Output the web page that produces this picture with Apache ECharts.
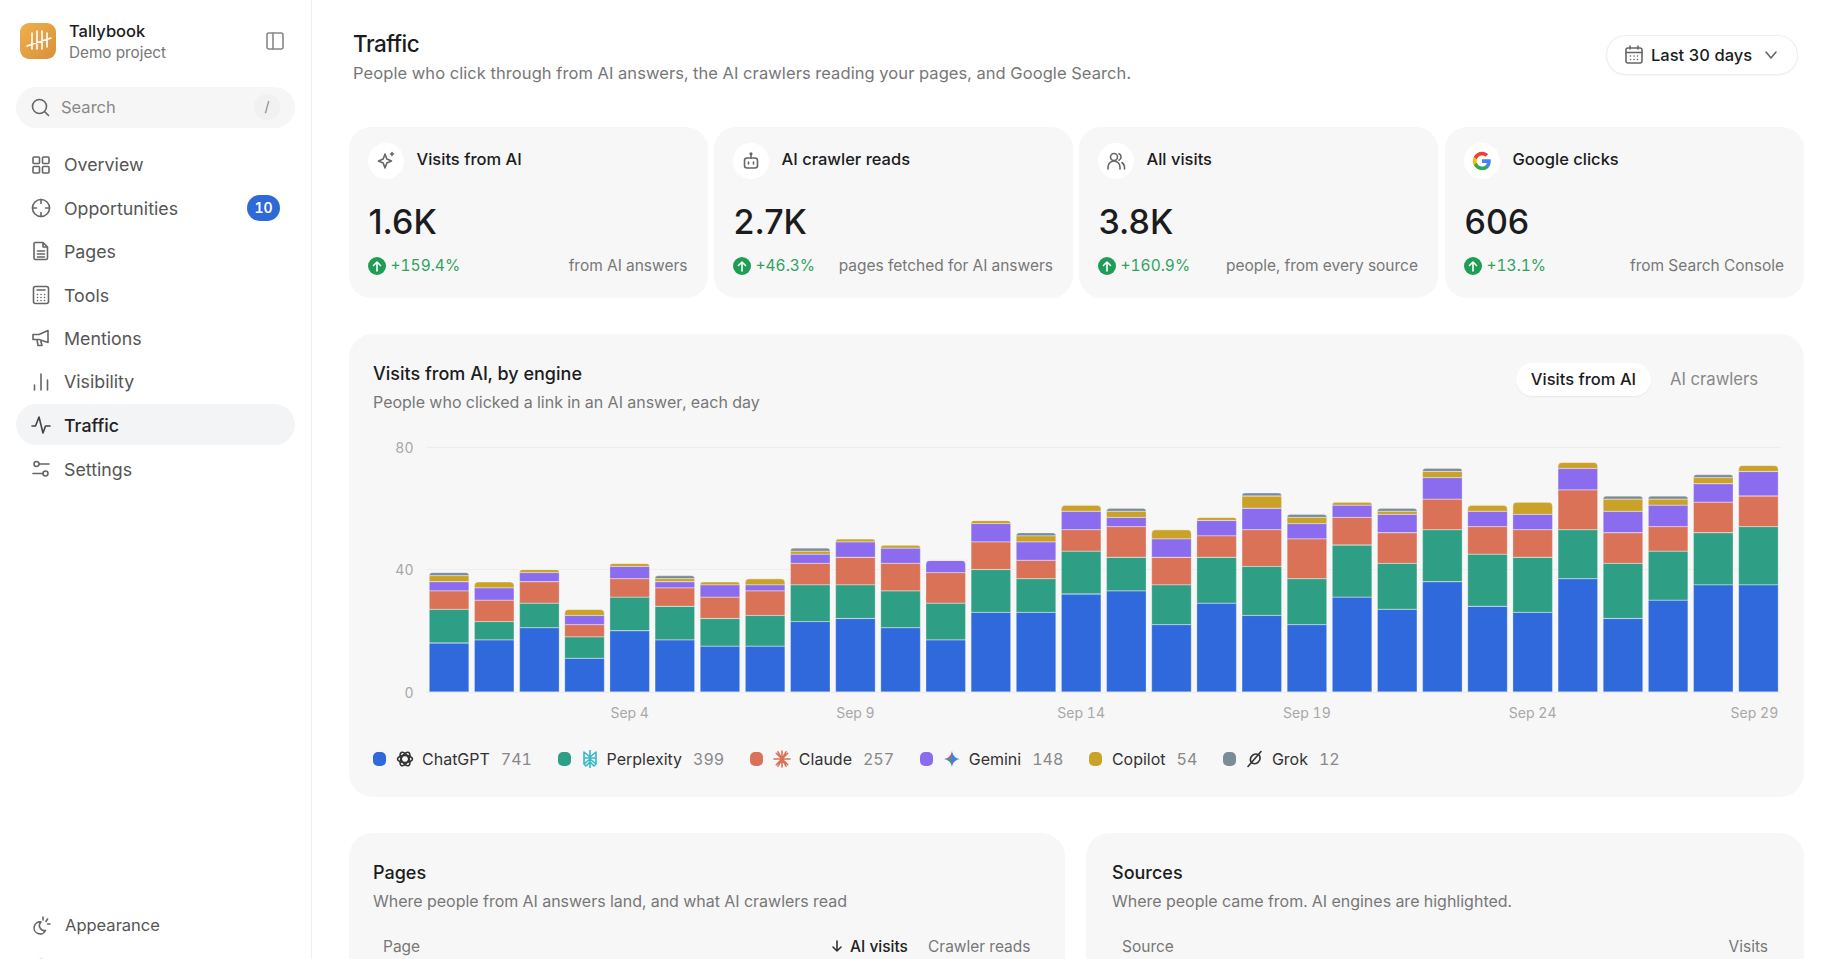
<!DOCTYPE html>
<html>
<head>
<meta charset="utf-8">
<title>Traffic</title>
<script src="https://cdn.jsdelivr.net/npm/echarts@6/dist/echarts.min.js"></script>
<style>
  html, body { margin: 0; padding: 0; background: #fff; }
  body { width: 1840px; height: 959px; overflow: hidden; position: relative; font-family: Inter, "Noto Sans", sans-serif; color: #1c1c1e; font-variant-numeric: tabular-nums; }
  .abs, .abs-c { position: absolute; white-space: nowrap; }
  .abs-c { transform: translateY(-50%); }
  svg:not(#chart svg) { display: block; fill: none; stroke: currentColor; stroke-width: 1.6; stroke-linecap: round; stroke-linejoin: round; }
  .side { position: absolute; left: 0; top: 0; width: 311px; height: 959px; border-right: 1px solid #f0f0f1; box-sizing: content-box; }
  .nav { position: absolute; left: 64px; font-size: 17.8px; color: #555; transform: translateY(-50%); }
  .navicon { position: absolute; left: 31px; width: 20px; height: 20px; color: #666; transform: translateY(-50%); }
  .pill { position: absolute; left: 16px; width: 279px; height: 41px; border-radius: 21px; background: #f3f4f5; }
  .card { position: absolute; background: #f7f7f7; border-radius: 22px; }
  .kpi { top: 127px; width: 359.5px; height: 171px; }
  .kpi .ic { position: absolute; left: 19px; top: 16px; width: 36px; height: 36px; border-radius: 50%; background: #fff; color: #666; display: flex; align-items: center; justify-content: center; }
  .kpi .t { position: absolute; left: 68px; top: 32px; font-size: 16.5px; font-weight: 500; transform: translateY(-50%); white-space: nowrap; }
  .kpi .v { position: absolute; left: 20px; top: 94px; font-size: 34px; font-weight: 500; font-variant-numeric: normal; transform: translateY(-50%); }
  .kpi .up { position: absolute; left: 19px; top: 129.5px; width: 18px; height: 18px; border-radius: 50%; background: #1f9d55; color: #fff; }
  .kpi .d { position: absolute; left: 42px; top: 138px; font-size: 15.5px; color: #2ea35f; transform: translateY(-50%); }
  .kpi .n { position: absolute; right: 20px; top: 138px; font-size: 15.5px; color: #777; transform: translateY(-50%); white-space: nowrap; }
  .h2 { font-size: 18px; font-weight: 500; }
  .sub { font-size: 16px; color: #777; }
  .th { font-size: 15.5px; color: #777; }
  #chart { position: absolute; left: 349px; top: 425px; width: 1455px; height: 310px; }
  #chart text { font-variant-numeric: tabular-nums !important; }
  #legend { position: absolute; left: 373px; top: 747px; height: 24px; display: flex; align-items: center; font-size: 16px; }
  .li { display: flex; align-items: center; margin-right: 25.6px; }
  .sw { width: 13px; height: 14px; border-radius: 5px; margin-right: 10px; }
  .eng { width: 18px; height: 18px; margin-right: 8px; }
  .cnt { color: #888; margin-left: 11px; }
</style>
</head>
<body>

<div class="side">
  <div class="abs" style="left:20px;top:23px;width:36px;height:36px;border-radius:9px;background:linear-gradient(135deg,#eeb04c,#d8913a);color:#fff">
    <svg width="36" height="36" viewBox="0 0 36 36" stroke-width="3.2"><path d="M12 10v16M17 8v18M22 8v18M27 10v14M7 23l24-8"/></svg>
  </div>
  <div class="abs-c" style="left:69px;top:31px;font-size:16.5px;font-weight:500">Tallybook</div>
  <div class="abs-c" style="left:69px;top:52px;font-size:15.3px;color:#777">Demo project</div>
  <div class="abs" style="left:266px;top:32px;color:#888"><svg width="18" height="18" viewBox="0 0 18 18"><rect x="1" y="1" width="16" height="16" rx="2"/><path d="M7 1v16"/></svg></div>

  <div class="pill" style="top:87px;background:#f6f6f7"></div>
  <div class="abs" style="left:30px;top:97px;color:#666"><svg width="20" height="20" viewBox="0 0 20 20"><circle cx="9.5" cy="9.5" r="7"/><path d="M15 15l3.5 3.5"/></svg></div>
  <div class="abs-c" style="left:61px;top:106.5px;font-size:16.5px;color:#888">Search</div>
  <div class="abs" style="left:254px;top:94px;width:26px;height:26px;border-radius:50%;background:#f1f1f2;color:#888;font-size:14px;line-height:26px;text-align:center">/</div>

  <div class="navicon" style="top:165px"><svg width="20" height="20" viewBox="0 0 20 20"><rect x="2" y="2" width="6.5" height="6.5" rx="1"/><rect x="11.5" y="2" width="6.5" height="6.5" rx="1"/><rect x="2" y="11.5" width="6.5" height="6.5" rx="1"/><rect x="11.5" y="11.5" width="6.5" height="6.5" rx="1"/></svg></div>
  <div class="nav" style="top:164px">Overview</div>
  <div class="navicon" style="top:208px"><svg width="20" height="20" viewBox="0 0 20 20"><circle cx="10" cy="10" r="8.5"/><path d="M10 1.5v4M10 14.500v4M1.500 10h4M14.500 10h4"/></svg></div>
  <div class="nav" style="top:208px">Opportunities</div>
  <div class="abs" style="left:247px;top:195px;width:33px;height:26px;border-radius:13px;background:#2f69d9;color:#fff;font-size:14px;font-weight:600;line-height:26px;text-align:center">10</div>
  <div class="navicon" style="top:251px"><svg width="20" height="20" viewBox="0 0 20 20"><path d="M4 1.500h8l4.500 4.500v11a1.500 1.500 0 0 1-1.500 1.500H4.500A1.500 1.500 0 0 1 3 17V3a1.500 1.500 0 0 1 1-1.500zM12 1.500V6h4.500M6.500 10h7M6.500 13h7M6.500 16h7"/></svg></div>
  <div class="nav" style="top:251px">Pages</div>
  <div class="navicon" style="top:295px"><svg width="20" height="20" viewBox="0 0 20 20"><rect x="2.500" y="1.500" width="15" height="17" rx="2"/><path d="M6 5h8M6.500 9.500h.01M10 9.500h.01M13.500 9.500h.01M6.500 12.500h.01M10 12.500h.01M13.500 12.500h.01M6.500 15.500h.01M10 15.500h.01M13.500 15.500h.01"/></svg></div>
  <div class="nav" style="top:295px">Tools</div>
  <div class="navicon" style="top:338px"><svg width="20" height="20" viewBox="0 0 20 20"><path d="M2 6.500h6l9-4v12l-9-3H2zM6 11.500l1 6h4l-1.500-5.500"/></svg></div>
  <div class="nav" style="top:338px">Mentions</div>
  <div class="navicon" style="top:382px"><svg width="20" height="20" viewBox="0 0 20 20"><path d="M3.500 13v5M10 2v16M16.500 8v10"/></svg></div>
  <div class="nav" style="top:381px">Visibility</div>
  <div class="pill" style="top:404px"></div>
  <div class="navicon" style="top:425px;color:#444"><svg width="20" height="20" viewBox="0 0 20 20"><path d="M1 11h3.500L8 2l4 16 2.500-7H19"/></svg></div>
  <div class="nav" style="top:425px;color:#222;font-weight:500">Traffic</div>
  <div class="navicon" style="top:469px"><svg width="20" height="20" viewBox="0 0 20 20"><circle cx="5.500" cy="5" r="2.500"/><circle cx="14.500" cy="14.500" r="2.500"/><path d="M8 5h10M2 14.500h10"/></svg></div>
  <div class="nav" style="top:469px">Settings</div>

  <div class="navicon" style="top:925px;left:32px"><svg width="20" height="20" viewBox="0 0 20 20"><path d="M9 7a6 6 0 1 0 4.500 8.500A5 5 0 0 1 9 7zM11 2v3M15.500 4l-1.500 2.500M18 9h-2.500"/></svg></div>
  <div class="nav" style="top:925px;left:65px;font-size:16.5px">Appearance</div>
  <div class="navicon" style="top:968px"><svg width="20" height="20" viewBox="0 0 20 20"><circle cx="10" cy="10" r="8.500"/></svg></div>
</div>

<div class="abs-c" style="left:353px;top:42.5px;font-size:22.5px;font-weight:500;letter-spacing:-.5px">Traffic</div>
<div class="abs-c" style="left:353px;top:73px;font-size:16.5px;letter-spacing:.085px;color:#777">People who click through from AI answers, the AI crawlers reading your pages, and Google Search.</div>

<div class="abs" style="left:1607px;top:36px;width:190px;height:38px;border-radius:19px;background:#fff;box-shadow:0 0 0 1px #eeeeee,0 1px 3px rgba(0,0,0,.08)"></div>
<div class="abs" style="left:1624px;top:45px;color:#666"><svg width="20" height="20" viewBox="0 0 20 20"><rect x="2" y="3" width="16" height="15" rx="2"/><path d="M2 7.500h16M6 1v3M14 1v3M6.500 11h.01M10 11h.01M13.500 11h.01M6.500 14.500h.01M10 14.500h.01M13.500 14.500h.01"/></svg></div>
<div class="abs-c" style="left:1651px;top:55px;font-size:16.500px;font-weight:500">Last 30 days</div>
<div class="abs" style="left:1764px;top:49px;color:#666"><svg width="14" height="12" viewBox="0 0 14 12"><path d="M2 3l5 6 5-6"/></svg></div>

<div class="card kpi" style="left:348.5px;width:359px">
  <div class="ic"><svg width="20" height="20" viewBox="0 0 20 20"><path d="M9 3l1.800 5 4.700 2-4.700 2L9 17l-1.800-5-4.700-2 4.700-2zM16 1.500v3M14.500 3h3"/></svg></div>
  <div class="t">Visits from AI</div><div class="v">1.6K</div>
  <div class="up"><svg width="18" height="18" viewBox="0 0 18 18" stroke-width="2.200"><path d="M9 14V5M5.500 8.500L9 5l3.500 3.500"/></svg></div>
  <div class="d">+159.4%</div><div class="n">from AI answers</div>
</div>
<div class="card kpi" style="left:713.5px">
  <div class="ic"><svg width="20" height="20" viewBox="0 0 20 20"><rect x="3.500" y="7" width="13" height="10" rx="2.500"/><path d="M10 7V3.500M7.500 11v2M12.500 11v2"/><circle cx="10" cy="2.800" r=".8"/></svg></div>
  <div class="t">AI crawler reads</div><div class="v">2.7K</div>
  <div class="up"><svg width="18" height="18" viewBox="0 0 18 18" stroke-width="2.200"><path d="M9 14V5M5.500 8.500L9 5l3.500 3.500"/></svg></div>
  <div class="d">+46.3%</div><div class="n">pages fetched for AI answers</div>
</div>
<div class="card kpi" style="left:1078.5px">
  <div class="ic"><svg width="20" height="20" viewBox="0 0 20 20"><circle cx="8" cy="6" r="3.500"/><path d="M2 18v-2a6 6 0 0 1 12 0v2M13 2.800a3.500 3.500 0 0 1 0 6.400M16 11.500a6 6 0 0 1 2.500 4.500v2"/></svg></div>
  <div class="t">All visits</div><div class="v">3.8K</div>
  <div class="up"><svg width="18" height="18" viewBox="0 0 18 18" stroke-width="2.200"><path d="M9 14V5M5.500 8.500L9 5l3.500 3.500"/></svg></div>
  <div class="d">+160.9%</div><div class="n">people, from every source</div>
</div>
<div class="card kpi" style="left:1444.5px">
  <div class="ic"><svg width="20" height="20" viewBox="0 0 24 24" style="stroke:none">
    <path fill="#4285F4" d="M22.560 12.250c0-.78-.07-1.530-.2-2.250H12v4.260h5.920c-.26 1.370-1.040 2.530-2.210 3.310v2.770h3.570c2.080-1.920 3.280-4.740 3.280-8.090z"/>
    <path fill="#34A853" d="M12 23c2.970 0 5.460-.98 7.280-2.660l-3.570-2.770c-.98.66-2.230 1.060-3.710 1.060-2.860 0-5.290-1.930-6.160-4.530H2.180v2.840C3.990 20.530 7.700 23 12 23z"/>
    <path fill="#FBBC05" d="M5.840 14.090c-.22-.66-.35-1.360-.35-2.090s.13-1.430.35-2.090V7.070H2.180C1.430 8.550 1 10.220 1 12s.43 3.450 1.180 4.930l3.660-2.840z"/>
    <path fill="#EA4335" d="M12 5.380c1.620 0 3.060.56 4.210 1.640l3.150-3.150C17.450 2.090 14.970 1 12 1 7.700 1 3.990 3.470 2.180 7.070l3.660 2.840c.87-2.600 3.300-4.530 6.160-4.530z"/>
  </svg></div>
  <div class="t">Google clicks</div><div class="v">606</div>
  <div class="up"><svg width="18" height="18" viewBox="0 0 18 18" stroke-width="2.200"><path d="M9 14V5M5.500 8.500L9 5l3.500 3.500"/></svg></div>
  <div class="d">+13.1%</div><div class="n">from Search Console</div>
</div>

<div class="card" style="left:348.5px;top:333.5px;width:1455.5px;height:463px;border-radius:24px"></div>
<div class="abs-c h2" style="left:373px;top:373px">Visits from AI, by engine</div>
<div class="abs-c sub" style="left:373px;top:402px">People who clicked a link in an AI answer, each day</div>
<div class="abs" style="left:1516px;top:363px;width:135px;height:33px;border-radius:17px;background:#fff;box-shadow:0 1px 2px rgba(0,0,0,.06);font-size:16.500px;font-weight:500;line-height:33px;text-align:center">Visits from AI</div>
<div class="abs" style="left:1670px;top:363px;font-size:16.700px;color:#888;line-height:33px">AI crawlers</div>
<div id="chart"></div>
<div id="legend"></div>

<div class="card" style="left:348.5px;top:833px;width:716.5px;height:160px;border-radius:24px"></div>
<div class="abs-c h2" style="left:373px;top:872px">Pages</div>
<div class="abs-c sub" style="left:373px;top:901px">Where people from AI answers land, and what AI crawlers read</div>
<div class="abs-c th" style="left:383px;top:946px">Page</div>
<div class="abs" style="left:830px;top:939px;color:#333"><svg width="14" height="14" viewBox="0 0 14 14"><path d="M7 2v10M3 8l4 4 4-4"/></svg></div>
<div class="abs-c th" style="left:850px;top:946px;color:#222;font-weight:500">AI visits</div>
<div class="abs-c th" style="left:928px;top:946px">Crawler reads</div>

<div class="card" style="left:1086px;top:833px;width:718px;height:160px;border-radius:24px"></div>
<div class="abs-c h2" style="left:1112px;top:872px">Sources</div>
<div class="abs-c sub" style="left:1112px;top:901px">Where people came from. AI engines are highlighted.</div>
<div class="abs-c th" style="left:1122px;top:946px">Source</div>
<div class="abs-c th" style="right:72px;top:946px">Visits</div>

<script>
var days = ['Aug 31','Sep 1','Sep 2','Sep 3','Sep 4','Sep 5','Sep 6','Sep 7','Sep 8','Sep 9','Sep 10','Sep 11','Sep 12','Sep 13','Sep 14','Sep 15','Sep 16','Sep 17','Sep 18','Sep 19','Sep 20','Sep 21','Sep 22','Sep 23','Sep 24','Sep 25','Sep 26','Sep 27','Sep 28','Sep 29'];
var engines = ['ChatGPT','Perplexity','Claude','Gemini','Copilot','Grok'];
var engineColors = ['#2f69dc','#2e9f84','#d97256','#8b6cef','#c9a227','#7b8c99'];

var chatgpt    = [16,17,21,11,20,17,15,15,23,24,21,17,26,26,32,33,22,29,25,22,31,27,36,28,26,37,24,30,35,35];
var perplexity = [11,6,8,7,11,11,9,10,12,11,12,12,14,11,14,11,13,15,16,15,17,15,17,17,18,16,18,16,17,19];
var claude     = [6,7,7,4,6,6,7,8,7,9,9,10,9,6,7,10,9,7,12,13,9,10,10,9,9,13,10,8,10,10];
var gemini     = [3,4,3,3,4,2,4,2,3,5,5,4,6,6,6,3,6,5,7,5,4,6,7,5,5,7,7,7,6,8];
var copilot    = [2,2,1,2,1,1,1,2,1,1,1,0,1,2,2,2,3,1,4,2,1,1,2,2,4,2,4,2,2,2];
var grok       = [1,0,0,0,0,1,0,0,1,0,0,0,0,1,0,1,0,0,1,1,0,1,1,0,0,0,1,1,1,0];
var engineValues = [chatgpt, perplexity, claude, gemini, copilot, grok];

var yTicks = [0, 40, 80];

// little brand marks for the legend
var engineIcons = [
  '<svg width="18" height="18" viewBox="0 0 18 18" stroke-width="1.300" style="color:#333"><ellipse cx="9" cy="9" rx="7.500" ry="3.600"/><ellipse cx="9" cy="9" rx="7.500" ry="3.600" transform="rotate(60 9 9)"/><ellipse cx="9" cy="9" rx="7.500" ry="3.600" transform="rotate(120 9 9)"/></svg>',
  '<svg width="18" height="18" viewBox="0 0 18 18" stroke-width="1" style="color:#35b8c9"><path d="M9 .5v17M3 2l6 5 6-5v6H3zM3 8v6l6-5 6 5V8M3 14l2 2 4-4M15 14l-2 2-4-4"/></svg>',
  '<svg width="18" height="18" viewBox="0 0 18 18" stroke-width="1.500" style="color:#d97256"><path d="M9 1v16M1 9h16M3.300 3.300l11.400 11.400M14.700 3.300L3.300 14.700M5 1.800l8 14.400M13 1.800L5 16.200"/></svg>',
  '<svg width="18" height="18" viewBox="0 0 18 18" style="stroke:none"><path fill="#3b82e6" d="M9 1c.6 4.500 3.500 7.400 8 8-4.500.6-7.400 3.500-8 8-.6-4.500-3.500-7.400-8-8 4.500-.6 7.400-3.500 8-8z"/><path fill="#e8553f" d="M9 1c-.6 4.500-3.500 7.400-8 8h8z" opacity=".6"/><path fill="#35a853" d="M9 17c-.6-4.500-3.500-7.400-8-8h8z" opacity=".6"/></svg>',
  '',
  '<svg width="18" height="18" viewBox="0 0 18 18" stroke-width="1.400" style="color:#333"><path d="M13 5a5.500 5.500 0 0 1-7 8M5 12A5.500 5.500 0 0 1 12 4.500M15 1.500L2 16.500"/></svg>'
];

var legendEl = document.getElementById('legend');
engines.forEach(function (name, i) {
  var total = engineValues[i].reduce(function (a, b) { return a + b; }, 0);
  var icon = engineIcons[i] ? '<span class="eng">' + engineIcons[i] + '</span>' : '';
  legendEl.innerHTML += '<div class="li"><span class="sw" style="background:' + engineColors[i] + '"></span>' + icon +
    '<span style="color:#333">' + name + '</span><span class="cnt">' + total + '</span></div>';
});

// only the top segment of a day's stack gets round corners
function topIndex(day) {
  for (var s = engines.length - 1; s >= 0; s--) {
    if (engineValues[s][day] > 0) return s;
  }
  return 0;
}

var series = engines.map(function (name, s) {
  return {
    name: name,
    type: 'bar',
    stack: 'visits',
    barCategoryGap: '12%',
    itemStyle: { color: engineColors[s], borderColor: '#f7f7f7', borderWidth: 0.3 },
    data: engineValues[s].map(function (v, d) {
      return { value: v, itemStyle: { borderRadius: topIndex(d) === s ? [4, 4, 0, 0] : 0 } };
    })
  };
});

var myChart = echarts.init(document.getElementById('chart'), null, { renderer: 'svg' });
myChart.setOption({
  animation: false,
  textStyle: { fontFamily: 'Inter' },
  grid: { left: 77.5, right: 23, top: 22, height: 245 },
  xAxis: {
    type: 'category',
    data: days,
    axisLine: { show: false },
    axisTick: { show: false },
    axisLabel: {
      color: '#a8a8a8',
      fontSize: 14,
      margin: 13,
      interval: function (idx) { return idx % 5 === 4; },
      // the last date sits a little left so it stays inside the bars
      formatter: function (v, idx) { return idx === days.length - 1 ? '{last|' + v + '}' : v; },
      rich: { last: { color: '#a8a8a8', fontSize: 14, padding: [0, 8, 0, 0] } }
    }
  },
  yAxis: {
    type: 'value',
    min: yTicks[0],
    max: yTicks[2],
    interval: yTicks[1],
    axisLine: { show: false },
    axisTick: { show: false },
    axisLabel: { color: '#a8a8a8', fontSize: 14, margin: 13 },
    splitLine: { lineStyle: { color: '#ededed' } }
  },
  series: series
});
</script>
</body>
</html>
